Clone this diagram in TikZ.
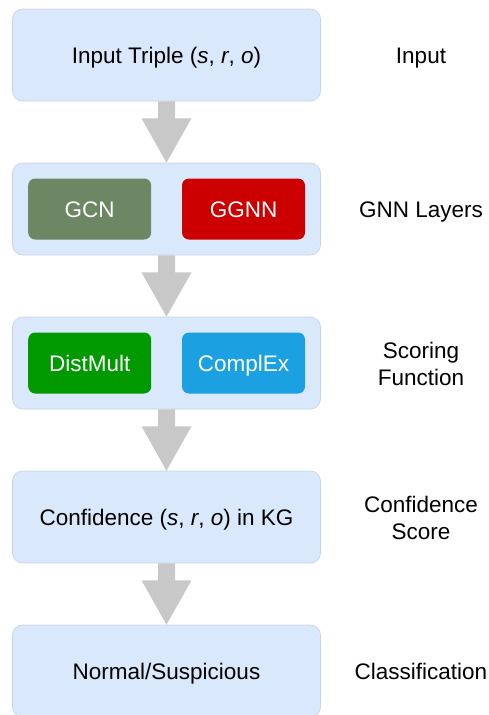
\documentclass[tikz,border=0pt]{standalone}
\usepackage{fontspec}
\setmainfont{Liberation Sans}
\usetikzlibrary{calc}

\definecolor{stagefill}{HTML}{DAE8FC}
\definecolor{stageline}{HTML}{C9D2DE}
\definecolor{flowgray}{HTML}{C8C8C8}
\definecolor{gcncol}{HTML}{6D8764}
\definecolor{ggnncol}{HTML}{CC0000}
\definecolor{distcol}{HTML}{009900}
\definecolor{cplxcol}{HTML}{1BA1E2}

\tikzset{
  bigtext/.style={font=\fontsize{22.5}{27}\selectfont},
  oneline/.style={text height=16.2pt, text depth=0pt},
  stage/.style={draw=stageline, line width=0.6pt, fill=stagefill,
    rounded corners=10pt, minimum width=308pt, minimum height=92pt,
    inner sep=0pt, text=black, bigtext, oneline},
  module/.style={rounded corners=7pt, minimum width=123pt, minimum height=61pt,
    inner sep=0pt, text=white, bigtext, oneline},
  tag/.style={align=center, text=black, inner sep=0pt, bigtext},
  flow/.style={fill=flowgray},
}

% block arrow from the bottom of one stage to the top of the next
\newcommand{\flowarrow}[2]{%
  \fill[flow] ($(#1.south)+(-8.5,0)$) -- ($(#1.south)+(8.5,0)$)
    -- ($(#1.south)+(8.5,17)$) -- ($(#1.south)+(25,17)$)
    -- (#2.north)
    -- ($(#1.south)+(-25,17)$) -- ($(#1.south)+(-8.5,17)$) -- cycle;}

\begin{document}
\begin{tikzpicture}[x=1pt, y=-1pt]
  \useasboundingbox (0,0) rectangle (489,715);
  \begin{scope}
  \clip (0,0) rectangle (489,715);

  % pipeline stages
  \node[stage] (input) at (166.5,55)  {Input Triple (\textit{s}, \textit{r}, \textit{o})};
  \node[stage] (gnn)   at (166.5,209) {};
  \node[stage] (score) at (166.5,363) {};
  \node[stage] (conf)  at (166.5,517) {Confidence (\textit{s}, \textit{r}, \textit{o}) in KG};
  \node[stage] (cls)   at (166.5,671) {};
  \node[tag, oneline] (clstext) at (166.5,671) {Normal/Suspicious};

  % models inside the stages
  \node[module, fill=gcncol]  (gcn)  at (89.7,209)  {GCN};
  \node[module, fill=ggnncol] (ggnn) at (243.5,209) {GGNN};
  \node[module, fill=distcol] (dist) at (89.7,363)  {DistMult};
  \node[module, fill=cplxcol] (cplx) at (243.5,363) {ComplEx};

  % arrows between stages
  \flowarrow{input}{gnn}
  \flowarrow{gnn}{score}
  \flowarrow{score}{conf}
  \flowarrow{conf}{cls}

  % stage labels
  \node[tag, oneline] (linput) at (421,55)  {Input};
  \node[tag, oneline] (lgnn)   at (421,209) {GNN Layers};
  \node[tag] (lscore) at (421,364) {Scoring\\Function};
  \node[tag] (lconf)  at (421,518) {Confidence\\Score};
  \node[tag, oneline] (lcls)   at (421,671) {Classification};
  \end{scope}
\end{tikzpicture}
\end{document}
